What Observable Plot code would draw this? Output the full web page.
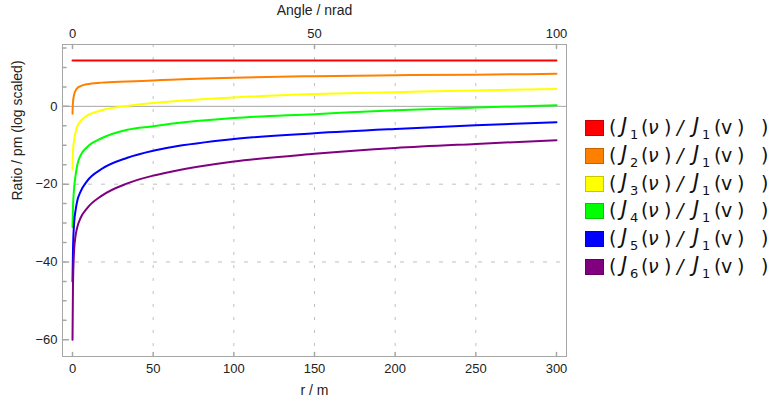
<!DOCTYPE html>
<html><head><meta charset="utf-8">
<script src="https://cdn.jsdelivr.net/npm/d3@7"></script>
<script src="https://cdn.jsdelivr.net/npm/@observablehq/plot@0.6"></script>
<style>
body{margin:0;background:#fff;}
#wrap{position:relative;width:771px;height:404px;overflow:hidden;}
#legend{position:absolute;left:585px;top:114px;font-family:"DejaVu Sans",sans-serif;font-size:19px;color:#111;}
.row{position:relative;height:27.8px;width:186px;}
.sw{position:absolute;left:0;top:6px;width:17px;height:14px;border:1px solid;}
.row span{position:absolute;top:1px;line-height:24px;}
.row span.big{font-size:21px;top:0px;}
.row span.sub{font-size:13px;top:9px;}
</style></head><body><div id="wrap"></div>
<script>
// ---- data ----
const rValues = [0, 0.3, 1, 2, 3, 5, 9, 18, 34, 50, 61, 100, 150, 200, 250, 300];
const seriesNames = ["J1", "J2", "J3", "J4", "J5", "J6"];
const seriesOrders = [1, 2, 3, 4, 5, 6];
const seriesColors = ["#ff0000", "#ff8000", "#ffff00", "#00ff00", "#0000ff", "#800080"];
const j1 = [11.8, 11.8, 11.8, 11.8, 11.8, 11.8, 11.8, 11.8, 11.8, 11.8, 11.8, 11.8, 11.8, 11.8, 11.8, 11.8];
const j2 = [-1.9, 1.0, 3.0, 4.1, 4.7, 5.2, 5.7, 6.1, 6.4, 6.65, 6.85, 7.35, 7.75, 8.0, 8.15, 8.37];
const j3 = [-16.2, -11.5, -8.6, -6.6, -5.1, -3.8, -2.4, -1.0, 0.1, 0.85, 1.25, 2.3, 3.15, 3.65, 4.1, 4.45];
const j4 = [-31, -26, -21, -17.5, -15, -12.6, -10.5, -8.2, -6.0, -5.1, -4.5, -3.0, -2.0, -1.0, -0.3, 0.26];
const j5 = [-45, -37, -30, -26.5, -24.2, -21.9, -19.2, -16.1, -13.2, -11.4, -10.5, -8.4, -6.9, -5.8, -4.87, -4.1];
const j6 = [-60, -46, -37, -33.0, -31.0, -28.7, -26.2, -23.0, -19.8, -17.8, -16.8, -14.2, -12.2, -10.7, -9.65, -8.7];
const seriesValues = [j1, j2, j3, j4, j5, j6];

const xTicks = [0, 50, 100, 150, 200, 250, 300];
const xGrid = [50, 100, 150, 200, 250];
const yMajor = [-60, -40, -20, 0];
const yMinor = [-55, -50, -45, -35, -30, -25, -15, -10, -5, 5, 10, 15];
const yGrid = [-40, -20];
const angleTicks = [0, 50, 100];      // nrad
const angleMax = 100, rMax = 300;     // 100 nrad <-> 300 m

const rows = [];
seriesNames.forEach((s, i) => rValues.forEach((r, k) => rows.push({r, v: seriesValues[i][k], s})));

const tickShape = {draw(ctx, l) { ctx.moveTo(0, 0); ctx.lineTo(0, -l); }};
const font = "'Liberation Sans', Arial, sans-serif";

const chart = Plot.plot({
  width: 771, height: 404,
  marginLeft: 62, marginRight: 205, marginTop: 44, marginBottom: 48,
  style: {fontFamily: font, fontSize: "13px", background: "white", overflow: "visible"},
  x: {domain: [-6.2, 306.2], axis: null},
  y: {domain: [-64.3, 15.9], axis: null},
  color: {domain: seriesNames, range: seriesColors},
  marks: [
    Plot.ruleX(xGrid, {x: d => d, stroke: "#c0c0c0", strokeDasharray: "3,10"}),
    Plot.ruleY(yGrid, {y: d => d, stroke: "#c0c0c0", strokeDasharray: "4,9"}),
    Plot.ruleY([0], {y: d => d, stroke: "#a6a6a6"}),
    Plot.line(rows, {x: "r", y: "v", z: "s", stroke: "s", strokeWidth: 2, curve: "monotone-x"}),
    Plot.frame({stroke: "#a6a6a6"}),
    Plot.vector(xTicks, {x: d => d, frameAnchor: "bottom", length: 4, rotate: 0, anchor: "start", shape: tickShape, stroke: "#a6a6a6"}),
    Plot.vector(angleTicks, {x: d => d * rMax / angleMax, frameAnchor: "top", length: 4, rotate: 180, anchor: "start", shape: tickShape, stroke: "#a6a6a6"}),
    Plot.vector(yMajor, {y: d => d, frameAnchor: "left", length: 6, rotate: 90, anchor: "start", shape: tickShape, stroke: "#a6a6a6"}),
    Plot.vector(yMinor, {y: d => d, frameAnchor: "left", length: 3.5, rotate: 90, anchor: "start", shape: tickShape, stroke: "#a6a6a6"}),
    Plot.text(xTicks, {x: d => d, frameAnchor: "bottom", lineAnchor: "middle", dy: 12, text: d => String(d), fill: "#222"}),
    Plot.text(angleTicks, {x: d => d * rMax / angleMax, frameAnchor: "top", lineAnchor: "middle", dy: -11, text: d => String(d), fill: "#222"}),
    Plot.text(yMajor, {y: d => d, frameAnchor: "left", lineAnchor: "middle", dx: -5, textAnchor: "end", text: d => d < 0 ? "\u2212" + Math.abs(d) : String(d), fill: "#222"}),
    Plot.text(["r / m"], {frameAnchor: "bottom", lineAnchor: "middle", dy: 34, fill: "#222", fontSize: 14}),
    Plot.text(["Angle / nrad"], {frameAnchor: "top", lineAnchor: "middle", dy: -34, fill: "#222", fontSize: 14}),
    Plot.text(["Ratio / pm (log scaled)"], {frameAnchor: "left", lineAnchor: "middle", dx: -45, rotate: -90, fill: "#222", fontSize: 14})
  ]
});
const wrap = document.getElementById("wrap");
wrap.appendChild(chart);

// legend: pieces of "(J_n (ν) / J_1 (v) )" with their horizontal offsets
const legend = document.createElement("div");
legend.id = "legend";
seriesOrders.forEach((n, i) => {
  const row = document.createElement("div");
  row.className = "row";
  const sw = document.createElement("div");
  sw.className = "sw";
  sw.style.background = seriesColors[i];
  sw.style.borderColor = d3.color(seriesColors[i]).darker(0.7).formatHex();
  row.appendChild(sw);
  const pieces = [
    ["(", 24, ""], ["J", 36, "it big"], [String(n), 45, "sub"], ["(", 56, ""], ["\u03bd", 63, "it"], [")", 79, ""],
    ["/", 92, "it"], ["J", 108, "it big"], ["1", 117, "sub"], ["(", 129, ""], ["v", 136, ""], [")", 152, ""], [")", 176, ""]
  ];
  pieces.forEach(([txt, left, cls]) => {
    const s = document.createElement("span");
    s.textContent = txt;
    s.style.left = left + "px";
    if (cls.includes("it")) s.style.fontStyle = "italic";
    if (cls.includes("big")) s.classList.add("big");
    if (cls === "sub") s.className = "sub";
    row.appendChild(s);
  });
  legend.appendChild(row);
});
wrap.appendChild(legend);
</script>
</body></html>
